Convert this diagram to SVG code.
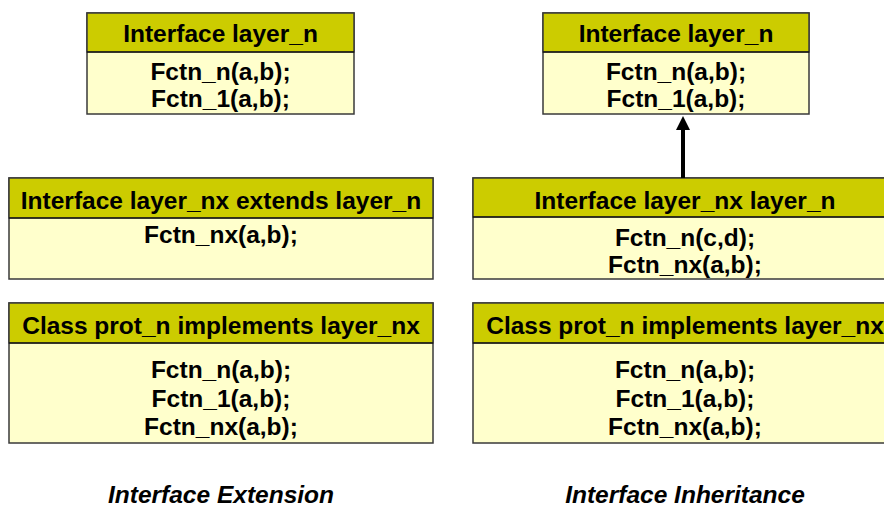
<svg xmlns="http://www.w3.org/2000/svg" width="884" height="508" viewBox="0 0 884 508">
  <style>
    .hdr { fill: #CCCC00; stroke: #3a3a3a; stroke-width: 1.5; }
    .body { fill: #FFFFCC; stroke: #3a3a3a; stroke-width: 1.5; }
    .sep { stroke: #000; stroke-width: 1.2; }
    text { font-family: "Liberation Sans", Arial, sans-serif; font-weight: bold; font-size: 24.5px; fill: #000; text-anchor: middle; }
    .cap { font-style: italic; }
    .link { stroke: #000; stroke-width: 4; fill: none; }
  </style>
  <defs>
    <marker id="arrowHead" markerUnits="userSpaceOnUse" markerWidth="16" markerHeight="16" refX="1" refY="7" orient="auto">
      <path d="M0,0 L14,7 L0,14 Z" fill="#000"/>
    </marker>
  </defs>

  <rect width="884" height="508" fill="#FFFFFF"/>

  <!-- Interface Extension column -->
  <g id="ext-layer-n">
    <rect class="body" x="87" y="13" width="267" height="101"/>
    <rect class="hdr" x="87" y="13" width="267" height="39"/>
    <line class="sep" x1="87" y1="52" x2="354" y2="52"/>
    <text x="220.5" y="42">Interface layer_n</text>
    <text x="220.5" y="80">Fctn_n(a,b);</text>
    <text x="220.5" y="107">Fctn_1(a,b);</text>
  </g>

  <g id="ext-layer-nx">
    <rect class="body" x="9" y="178" width="424" height="101"/>
    <rect class="hdr" x="9" y="178" width="424" height="40"/>
    <line class="sep" x1="9" y1="218" x2="433" y2="218"/>
    <text x="221" y="209">Interface layer_nx extends layer_n</text>
    <text x="221" y="243">Fctn_nx(a,b);</text>
  </g>

  <g id="ext-prot-n">
    <rect class="body" x="9" y="303" width="424" height="140"/>
    <rect class="hdr" x="9" y="303" width="424" height="40"/>
    <line class="sep" x1="9" y1="343" x2="433" y2="343"/>
    <text x="221" y="334">Class prot_n implements layer_nx</text>
    <text x="221" y="378">Fctn_n(a,b);</text>
    <text x="221" y="407">Fctn_1(a,b);</text>
    <text x="221" y="435">Fctn_nx(a,b);</text>
  </g>

  <!-- Interface Inheritance column -->
  <g id="inh-layer-n">
    <rect class="body" x="543" y="13" width="266" height="101"/>
    <rect class="hdr" x="543" y="13" width="266" height="39"/>
    <line class="sep" x1="543" y1="52" x2="809" y2="52"/>
    <text x="676" y="42">Interface layer_n</text>
    <text x="676" y="80">Fctn_n(a,b);</text>
    <text x="676" y="107">Fctn_1(a,b);</text>
  </g>

  <g id="inh-layer-nx">
    <rect class="body" x="473" y="178" width="424" height="101"/>
    <rect class="hdr" x="473" y="178" width="424" height="39"/>
    <line class="sep" x1="473" y1="217" x2="897" y2="217"/>
    <text x="685" y="209">Interface layer_nx layer_n</text>
    <text x="685" y="246">Fctn_n(c,d);</text>
    <text x="685" y="273">Fctn_nx(a,b);</text>
  </g>

  <g id="inh-prot-n">
    <rect class="body" x="473" y="303" width="424" height="140"/>
    <rect class="hdr" x="473" y="303" width="424" height="40"/>
    <line class="sep" x1="473" y1="343" x2="897" y2="343"/>
    <text x="685" y="334">Class prot_n implements layer_nx</text>
    <text x="685" y="378">Fctn_n(a,b);</text>
    <text x="685" y="407">Fctn_1(a,b);</text>
    <text x="685" y="435">Fctn_nx(a,b);</text>
  </g>

  <!-- connectors -->
  <g id="connectors">
    <line class="link" x1="683" y1="178" x2="683" y2="129" marker-end="url(#arrowHead)"/>
  </g>

  <!-- column captions -->
  <text class="cap" x="221" y="503">Interface Extension</text>
  <text class="cap" x="685" y="503">Interface Inheritance</text>
</svg>
